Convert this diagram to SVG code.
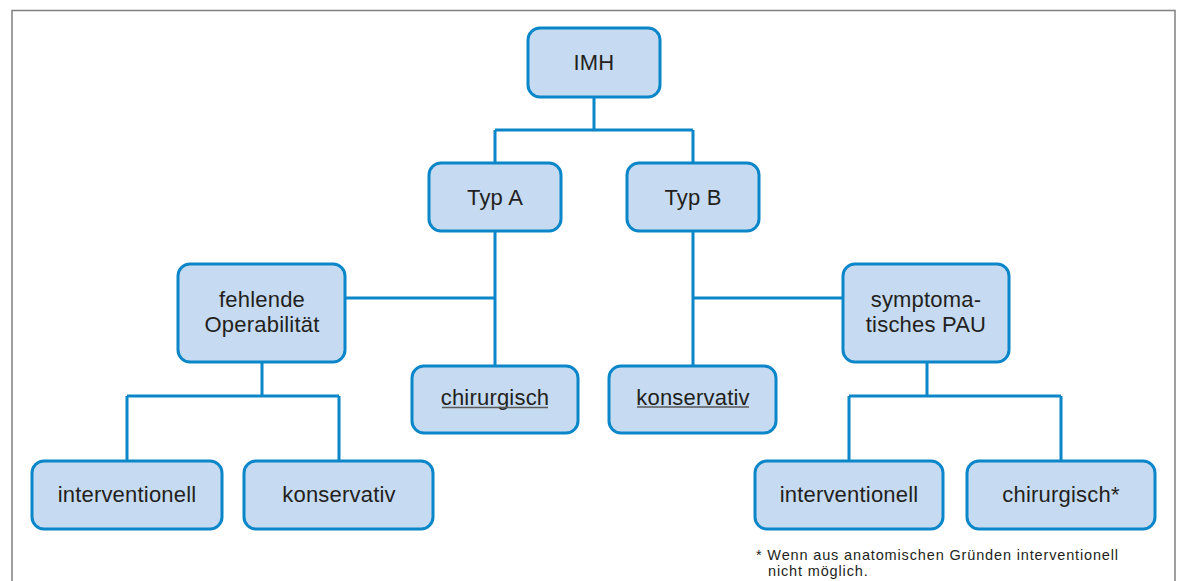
<svg xmlns="http://www.w3.org/2000/svg" width="1180" height="581" viewBox="0 0 1180 581">
<style>
.box{fill:#c6dbf1;stroke:#0b86c9;stroke-width:3}
.lbl{font-family:"Liberation Sans",Arial,sans-serif;font-size:22px;fill:#231f20;text-anchor:middle;letter-spacing:0.2px}
.con{fill:none;stroke:#0b86c9;stroke-width:3}
.ul{stroke:#5a5a5a;stroke-width:1.5}
.fn{font-family:"Liberation Sans",Arial,sans-serif;font-size:14.5px;fill:#231f20;letter-spacing:0.85px}
</style>
<rect width="1180" height="581" fill="#ffffff"/>
<path d="M12,581 V10.5 H1175 V581" fill="none" stroke="#808080" stroke-width="1.5"/>
<g id="connectors">
<path class="con" d="M594,97 V130 M495,130 H693 M495,130 V163 M693,130 V163"/>
<path class="con" d="M495,231 V366 M345,298 H495"/>
<path class="con" d="M693,231 V366 M693,298 H843"/>
<path class="con" d="M262,362 V396 M127,396 H339 M127,396 V461 M339,396 V461"/>
<path class="con" d="M927,362 V396 M849,396 H1061 M849,396 V461 M1061,396 V461"/>
</g>
<g id="imh"><rect class="box" x="528" y="28" width="132" height="69" rx="12"/><text class="lbl" x="594" y="70">IMH</text></g>
<g id="typA"><rect class="box" x="429" y="163" width="132" height="68" rx="12"/><text class="lbl" x="495" y="205">Typ A</text></g>
<g id="typB"><rect class="box" x="627" y="163" width="132" height="68" rx="12"/><text class="lbl" x="693" y="205">Typ B</text></g>
<g id="fehlende"><rect class="box" x="178" y="264" width="167" height="98" rx="12"/><text class="lbl" x="262" y="307">fehlende</text><text class="lbl" x="262" y="332">Operabilität</text></g>
<g id="chirurgischA"><rect class="box" x="412" y="366" width="166" height="67" rx="12"/><text class="lbl" x="495" y="405">chirurgisch</text><line class="ul" x1="442" y1="407.5" x2="548" y2="407.5"/></g>
<g id="konservativB"><rect class="box" x="609" y="366" width="167" height="67" rx="12"/><text class="lbl" x="693" y="405">konservativ</text><line class="ul" x1="637" y1="407" x2="749" y2="407"/></g>
<g id="symptom"><rect class="box" x="843" y="264" width="166" height="98" rx="12"/><text class="lbl" x="926" y="307">symptoma-</text><text class="lbl" x="926" y="332">tisches PAU</text></g>
<g id="interventionellL"><rect class="box" x="32" y="461" width="190" height="68" rx="12"/><text class="lbl" x="127" y="502">interventionell</text></g>
<g id="konservativL"><rect class="box" x="244" y="461" width="189" height="68" rx="12"/><text class="lbl" x="339" y="502">konservativ</text></g>
<g id="interventionellR"><rect class="box" x="755" y="461" width="188" height="68" rx="12"/><text class="lbl" x="849" y="502">interventionell</text></g>
<g id="chirurgischR"><rect class="box" x="967" y="461" width="188" height="68" rx="12"/><text class="lbl" x="1061" y="502">chirurgisch*</text></g>
<g id="footnote"><text class="fn" x="756" y="560">* Wenn aus anatomischen Gründen interventionell</text><text class="fn" x="768" y="576">nicht möglich.</text></g>
</svg>
